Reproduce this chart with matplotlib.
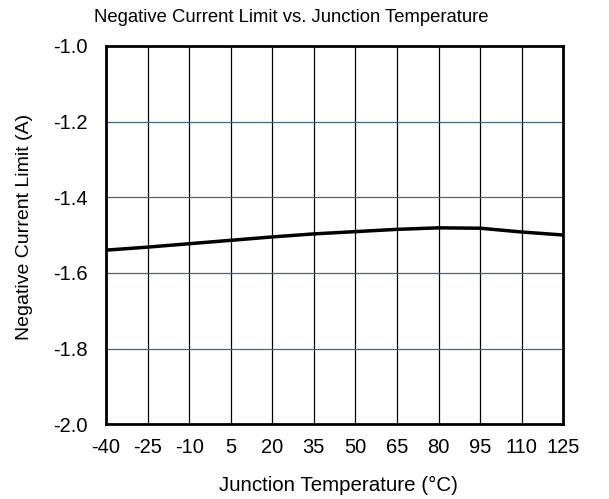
import matplotlib.pyplot as plt
import numpy as np

plt.rcParams['font.family'] = ['Liberation Sans', 'DejaVu Sans']

# Junction temperature (C) and negative current limit (A)
temp = [-40, -25, -10, 5, 20, 35, 50, 65, 80, 95, 110, 125]
ilim = [-1.540, -1.532, -1.523, -1.514, -1.505, -1.497, -1.491, -1.485, -1.481, -1.482, -1.492, -1.500]

x_ticks = [-40, -25, -10, 5, 20, 35, 50, 65, 80, 95, 110, 125]
y_ticks = [-2.0, -1.8, -1.6, -1.4, -1.2, -1.0]

fig = plt.figure(figsize=(6.09, 4.99), dpi=100)
ax = fig.add_axes([0.174, 0.150, 0.751, 0.758])

# Grid: black verticals, slate-blue horizontals
for t in x_ticks[1:-1]:
    ax.axvline(t, color='black', lw=0.9, zorder=1)
for v in y_ticks[1:-1]:
    ax.axhline(v, color='#4a6282', lw=0.9, zorder=1)

ax.plot(temp, ilim, color='black', lw=2.5, zorder=3, solid_capstyle='butt')

ax.set_xlim(-40, 125)
ax.set_ylim(-2.0, -1.0)
ax.set_xticks(x_ticks)
ax.set_yticks(y_ticks)
ax.set_xticklabels([str(t) for t in x_ticks])
ax.set_yticklabels(['%.1f' % v for v in y_ticks])
ax.tick_params(length=0, labelsize=14.5)
ax.tick_params(axis='x', pad=10)
ax.tick_params(axis='y', pad=13)

for s in ax.spines.values():
    s.set_linewidth(2)
    s.set_zorder(4)

fig.text(0.479, 0.964, 'Negative Current Limit vs. Junction Temperature',
         fontsize=13.3, ha='center', va='center')
fig.text(0.556, 0.028, 'Junction Temperature (\u00b0C)',
         fontsize=14.8, ha='center', va='center')
fig.text(0.041, 0.545, 'Negative Current Limit (A)',
         fontsize=14, ha='center', va='center', rotation=90)

fig.savefig('out.png', dpi=100)
